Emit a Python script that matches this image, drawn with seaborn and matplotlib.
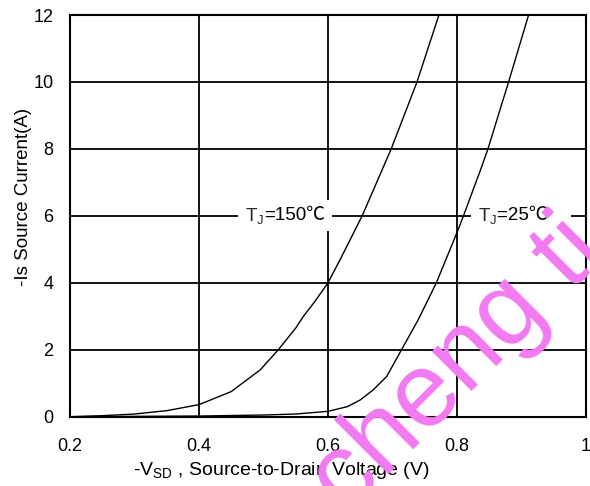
import matplotlib
matplotlib.use("Agg")
import matplotlib.pyplot as plt
import numpy as np
import pandas as pd
import seaborn as sns

# Source-drain diode forward characteristics
vsd_150 = [0.20, 0.25, 0.30, 0.35, 0.40, 0.45, 0.495, 0.523, 0.55, 0.562, 0.58,
           0.60, 0.619, 0.653, 0.68, 0.698, 0.72, 0.738, 0.755, 0.772, 0.79]
is_150 = [0.00, 0.03, 0.08, 0.18, 0.36, 0.75, 1.40, 2.00, 2.65, 3.00, 3.45,
          4.00, 4.70, 6.00, 7.20, 8.00, 9.10, 10.00, 11.00, 12.00, 13.0]

vsd_25 = [0.20, 0.30, 0.40, 0.50, 0.55, 0.60, 0.63, 0.65, 0.67, 0.691, 0.714,
          0.74, 0.768, 0.80, 0.81, 0.837, 0.848, 0.88, 0.911, 0.93]
is_25 = [0.00, 0.01, 0.02, 0.05, 0.08, 0.16, 0.30, 0.50, 0.80, 1.20, 2.00,
         2.90, 4.00, 5.50, 6.00, 7.40, 8.00, 10.00, 12.00, 13.2]

x_ticks = [0.2, 0.4, 0.6, 0.8, 1.0]
x_tick_labels = ["0.2", "0.4", "0.6", "0.8", "1"]
y_ticks = [0, 2, 4, 6, 8, 10, 12]

df = pd.concat([
    pd.DataFrame({"vsd": vsd_150, "is": is_150, "tj": "150"}),
    pd.DataFrame({"vsd": vsd_25, "is": is_25, "tj": "25"}),
])

sns.set_theme(style="white")
plt.rcParams["font.family"] = ["Liberation Sans", "Noto Sans CJK SC", "DejaVu Sans"]
plt.rcParams["mathtext.fontset"] = "custom"
plt.rcParams["mathtext.rm"] = "Liberation Sans"
plt.rcParams["mathtext.it"] = "Liberation Sans"

fig = plt.figure(figsize=(5.90, 4.86), dpi=100)
ax = fig.add_axes([0.1186, 0.1426, 0.8746, 0.8265])

sns.lineplot(data=df, x="vsd", y="is", units="tj", estimator=None,
             color="black", linewidth=1.0, ax=ax, sort=False, zorder=3)

ax.set_xlim(0.2, 1.0)
ax.set_ylim(0, 12)
ax.set_xticks(x_ticks)
ax.set_xticklabels(x_tick_labels)
ax.set_yticks(y_ticks)
ax.tick_params(axis="both", length=0, labelsize=13, colors="black")
ax.tick_params(axis="x", pad=15)
ax.tick_params(axis="y", pad=12)

ax.grid(True, color="black", linewidth=1.3)
ax.set_axisbelow(True)
for sp in ax.spines.values():
    sp.set_visible(True)
    sp.set_color("black")
    sp.set_linewidth(1.5)

ax.set_xlabel(r"-V$\mathregular{_{SD}}$ , Source-to-Drain Voltage (V)",
              fontsize=14, color="black")
ax.set_ylabel("-Is Source Current(A)", fontsize=13.5, color="black")
ax.xaxis.set_label_coords(0.409, -0.107)
ax.yaxis.set_label_coords(-0.074, 0.547)


def temp_label(x, temp, tail=""):
    """Junction-temperature label: T_J in mathtext, the rest as plain text
    (so the ℃ sign can fall back to a CJK font), on one white backing."""
    box = dict(facecolor="white", edgecolor="none", pad=5)
    head = ax.text(x, 6.0, r"T$\mathregular{_J}$", fontsize=13.5, ha="left",
                   va="center", bbox=box, zorder=4)
    rest = f"={temp}℃{tail}"
    kw = dict(xy=(1, 0.5), xycoords=head, ha="left", va="center",
              fontsize=13.5, xytext=(0, 0.5), textcoords="offset points")
    ax.annotate(rest, color="white", bbox=box, zorder=3.5, **kw)
    ax.annotate(rest, color="black", zorder=5, **kw)


temp_label(0.471, 150)
temp_label(0.8326, 25, "   ")

# Watermark
fig.text(0.776, 0.247, "cheng ti", fontsize=76, color="#f27af2",
         rotation=45, ha="center", va="center", zorder=10)

fig.savefig("out.png", dpi=100)
